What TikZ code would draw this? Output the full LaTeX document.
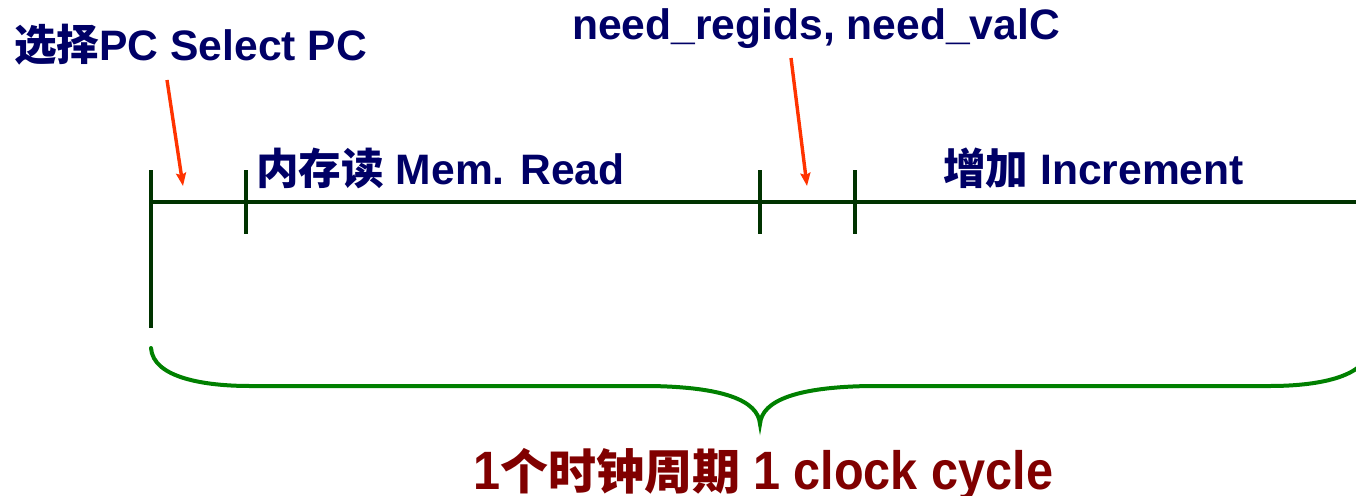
\documentclass[tikz,border=0pt]{standalone}
\usepackage{graphicx}
\usepackage{fontspec}
\setmainfont{Liberation Sans}
\newfontfamily\cjk{Noto Sans CJK SC}
\usetikzlibrary{arrows.meta}
\definecolor{navy}{RGB}{0,0,102}
\definecolor{lgreen}{RGB}{0,51,0}
\definecolor{bgreen}{RGB}{0,128,0}
\definecolor{pred}{RGB}{255,51,0}
\definecolor{dred}{RGB}{128,0,0}
\tikzset{
  lbl/.style={anchor=base west, inner sep=0pt, text=navy, font=\bfseries\fontsize{42.6}{48}\selectfont},
  tline/.style={draw=lgreen, line width=3.2pt},
  tick/.style={draw=lgreen, line width=3.5pt},
  pointer/.style={draw=pred, line width=3.4pt, -{Stealth[length=13pt,width=10pt,inset=2pt]}},
  bracepath/.style={draw=bgreen, line width=4pt, line cap=round}
}
\begin{document}
\begin{tikzpicture}[x=1pt,y=-1pt]
\useasboundingbox (0,0) rectangle (1356,495);
\clip (0,0) rectangle (1356,495);
% labels
\node[lbl] (sel) at (14,60) {\cjk 选择\rmfamily PC Select PC};
\node[lbl] (need) at (572,40) {need\_regids, need\_valC};
\node[lbl] (mem) at (256,184) {\cjk 内存读\rmfamily{} Mem. Read};
\node[lbl] (inc) at (943,184) {\cjk 增加\rmfamily{} Increment};
\node[anchor=base west, inner sep=0pt, text=dred, font=\bfseries\fontsize{54}{60}\selectfont] (cyc) at (473,489)
  {\scalebox{0.9}[1]{1}{\cjk\fontsize{48}{50}\selectfont 个时钟周期}\hspace{13pt}\scalebox{0.9}[1]{1 clock cycle}};
% timeline
\coordinate (t0) at (151,202);
\coordinate (tend) at (1360,202);
\draw[tline] (t0) -- (tend);
\draw[tick] (151,170) -- (151,328);
\draw[tick] (246,170) -- (246,234);
\draw[tick] (760,170) -- (760,234);
\draw[tick] (855,170) -- (855,234);
% pointers
\coordinate (p1s) at (167,80);
\coordinate (p1e) at (183,186);
\coordinate (p2s) at (791,58);
\coordinate (p2e) at (807,186);
\draw[pointer] (p1s) -- (p1e);
\draw[pointer] (p2s) -- (p2e);
% brace
\coordinate (bl) at (151,348);
\coordinate (bm) at (760,424);
\coordinate (br) at (1369,348);
\draw[bracepath] (bl) .. controls (153,378) and (205,386) .. (250,386)
  -- (650,386) .. controls (722,387) and (758,400) .. (bm)
  .. controls (762,400) and (798,387) .. (870,386)
  -- (1270,386) .. controls (1315,386) and (1367,378) .. (br);
\end{tikzpicture}
\end{document}
